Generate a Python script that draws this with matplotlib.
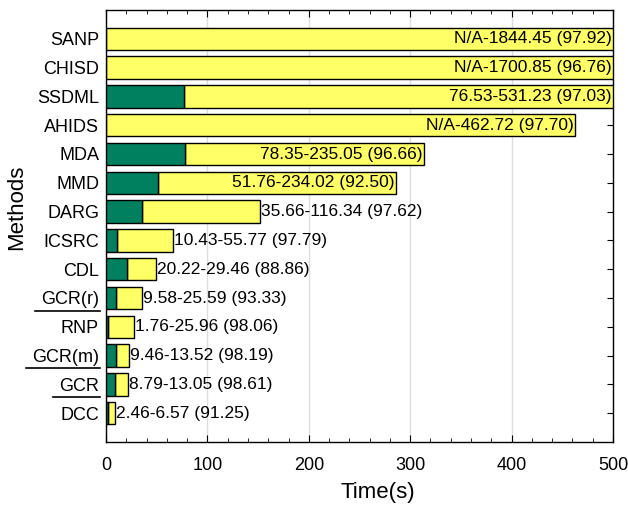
import matplotlib
matplotlib.use("Agg")
import matplotlib.pyplot as plt
from matplotlib.ticker import MultipleLocator
from matplotlib.lines import Line2D

plt.rcParams['font.family'] = ['Liberation Sans', 'DejaVu Sans']

methods = ["SANP", "CHISD", "SSDML", "AHIDS", "MDA", "MMD", "DARG", "ICSRC",
           "CDL", "GCR(r)", "RNP", "GCR(m)", "GCR", "DCC"]
train = [None, None, 76.53, None, 78.35, 51.76, 35.66, 10.43,
         20.22, 9.58, 1.76, 9.46, 8.79, 2.46]
test = [1844.45, 1700.85, 531.23, 462.72, 235.05, 234.02, 116.34, 55.77,
        29.46, 25.59, 25.96, 13.52, 13.05, 6.57]
acc = [97.92, 96.76, 97.03, 97.70, 96.66, 92.50, 97.62, 97.79,
       88.86, 93.33, 98.06, 98.19, 98.61, 91.25]
underlined = ["GCR(r)", "GCR(m)", "GCR"]

green = '#00805f'
yellow = '#ffff66'
xmax = 500

fig = plt.figure(figsize=(6.28, 5.05), dpi=100)
ax = fig.add_axes([106/628, 1-442/505, (613-106)/628, (442-10)/505])

ys = list(range(len(methods)))
h = 0.78
for y, m, tr, te, a in zip(ys, methods, train, test, acc):
    tr0 = tr if tr is not None else 0
    if tr is not None:
        ax.barh(y, tr, height=h, color=green, edgecolor='black', linewidth=1, zorder=3)
    ax.barh(y, te, left=tr0, height=h, color=yellow, edgecolor='black', linewidth=1, zorder=2)
    total = tr0 + te
    lab = f"{'N/A' if tr is None else f'{tr:.2f}'}-{te:.2f} ({a:.2f})"
    if total > 250:
        ax.text(min(total, xmax) - 1.5, y, lab, ha='right', va='center', fontsize=12.5, zorder=5)
    else:
        ax.text(total + 1, y, lab, ha='left', va='center', fontsize=12.5, zorder=5)

ax.set_xlim(0, xmax)
ax.set_ylim(len(methods), -1)
ax.set_yticks(ys)
ax.set_yticklabels(methods, fontsize=13)
ax.xaxis.set_major_locator(MultipleLocator(100))
ax.xaxis.set_minor_locator(MultipleLocator(20))
ax.tick_params(axis='x', which='major', direction='in', length=5, top=True, labelsize=13, pad=11)
ax.tick_params(axis='x', which='minor', direction='in', length=3, top=True)
ax.tick_params(axis='y', which='major', direction='in', length=4, right=True, left=True, pad=5)
ax.grid(axis='x', color='#dddddd', linewidth=1, zorder=0)
ax.set_axisbelow(True)
for s in ax.spines.values():
    s.set_linewidth(1)
ax.set_xlabel("Time(s)", fontsize=16)
ax.xaxis.set_label_coords(0.536, -0.092)
ax.set_ylabel("Methods", fontsize=16)
ax.yaxis.set_label_coords(-0.155, 0.544)

fig.canvas.draw()
r = fig.canvas.get_renderer()
for t in ax.get_yticklabels():
    if t.get_text() in underlined:
        bb = t.get_window_extent(r)
        x0 = (bb.x0 - 6) / fig.bbox.width
        x1 = (bb.x1 + 1) / fig.bbox.width
        yy = (bb.y0 - 2) / fig.bbox.height
        fig.add_artist(Line2D([x0, x1], [yy, yy], color='black', linewidth=1.2))

fig.savefig("out.png", dpi=100)
